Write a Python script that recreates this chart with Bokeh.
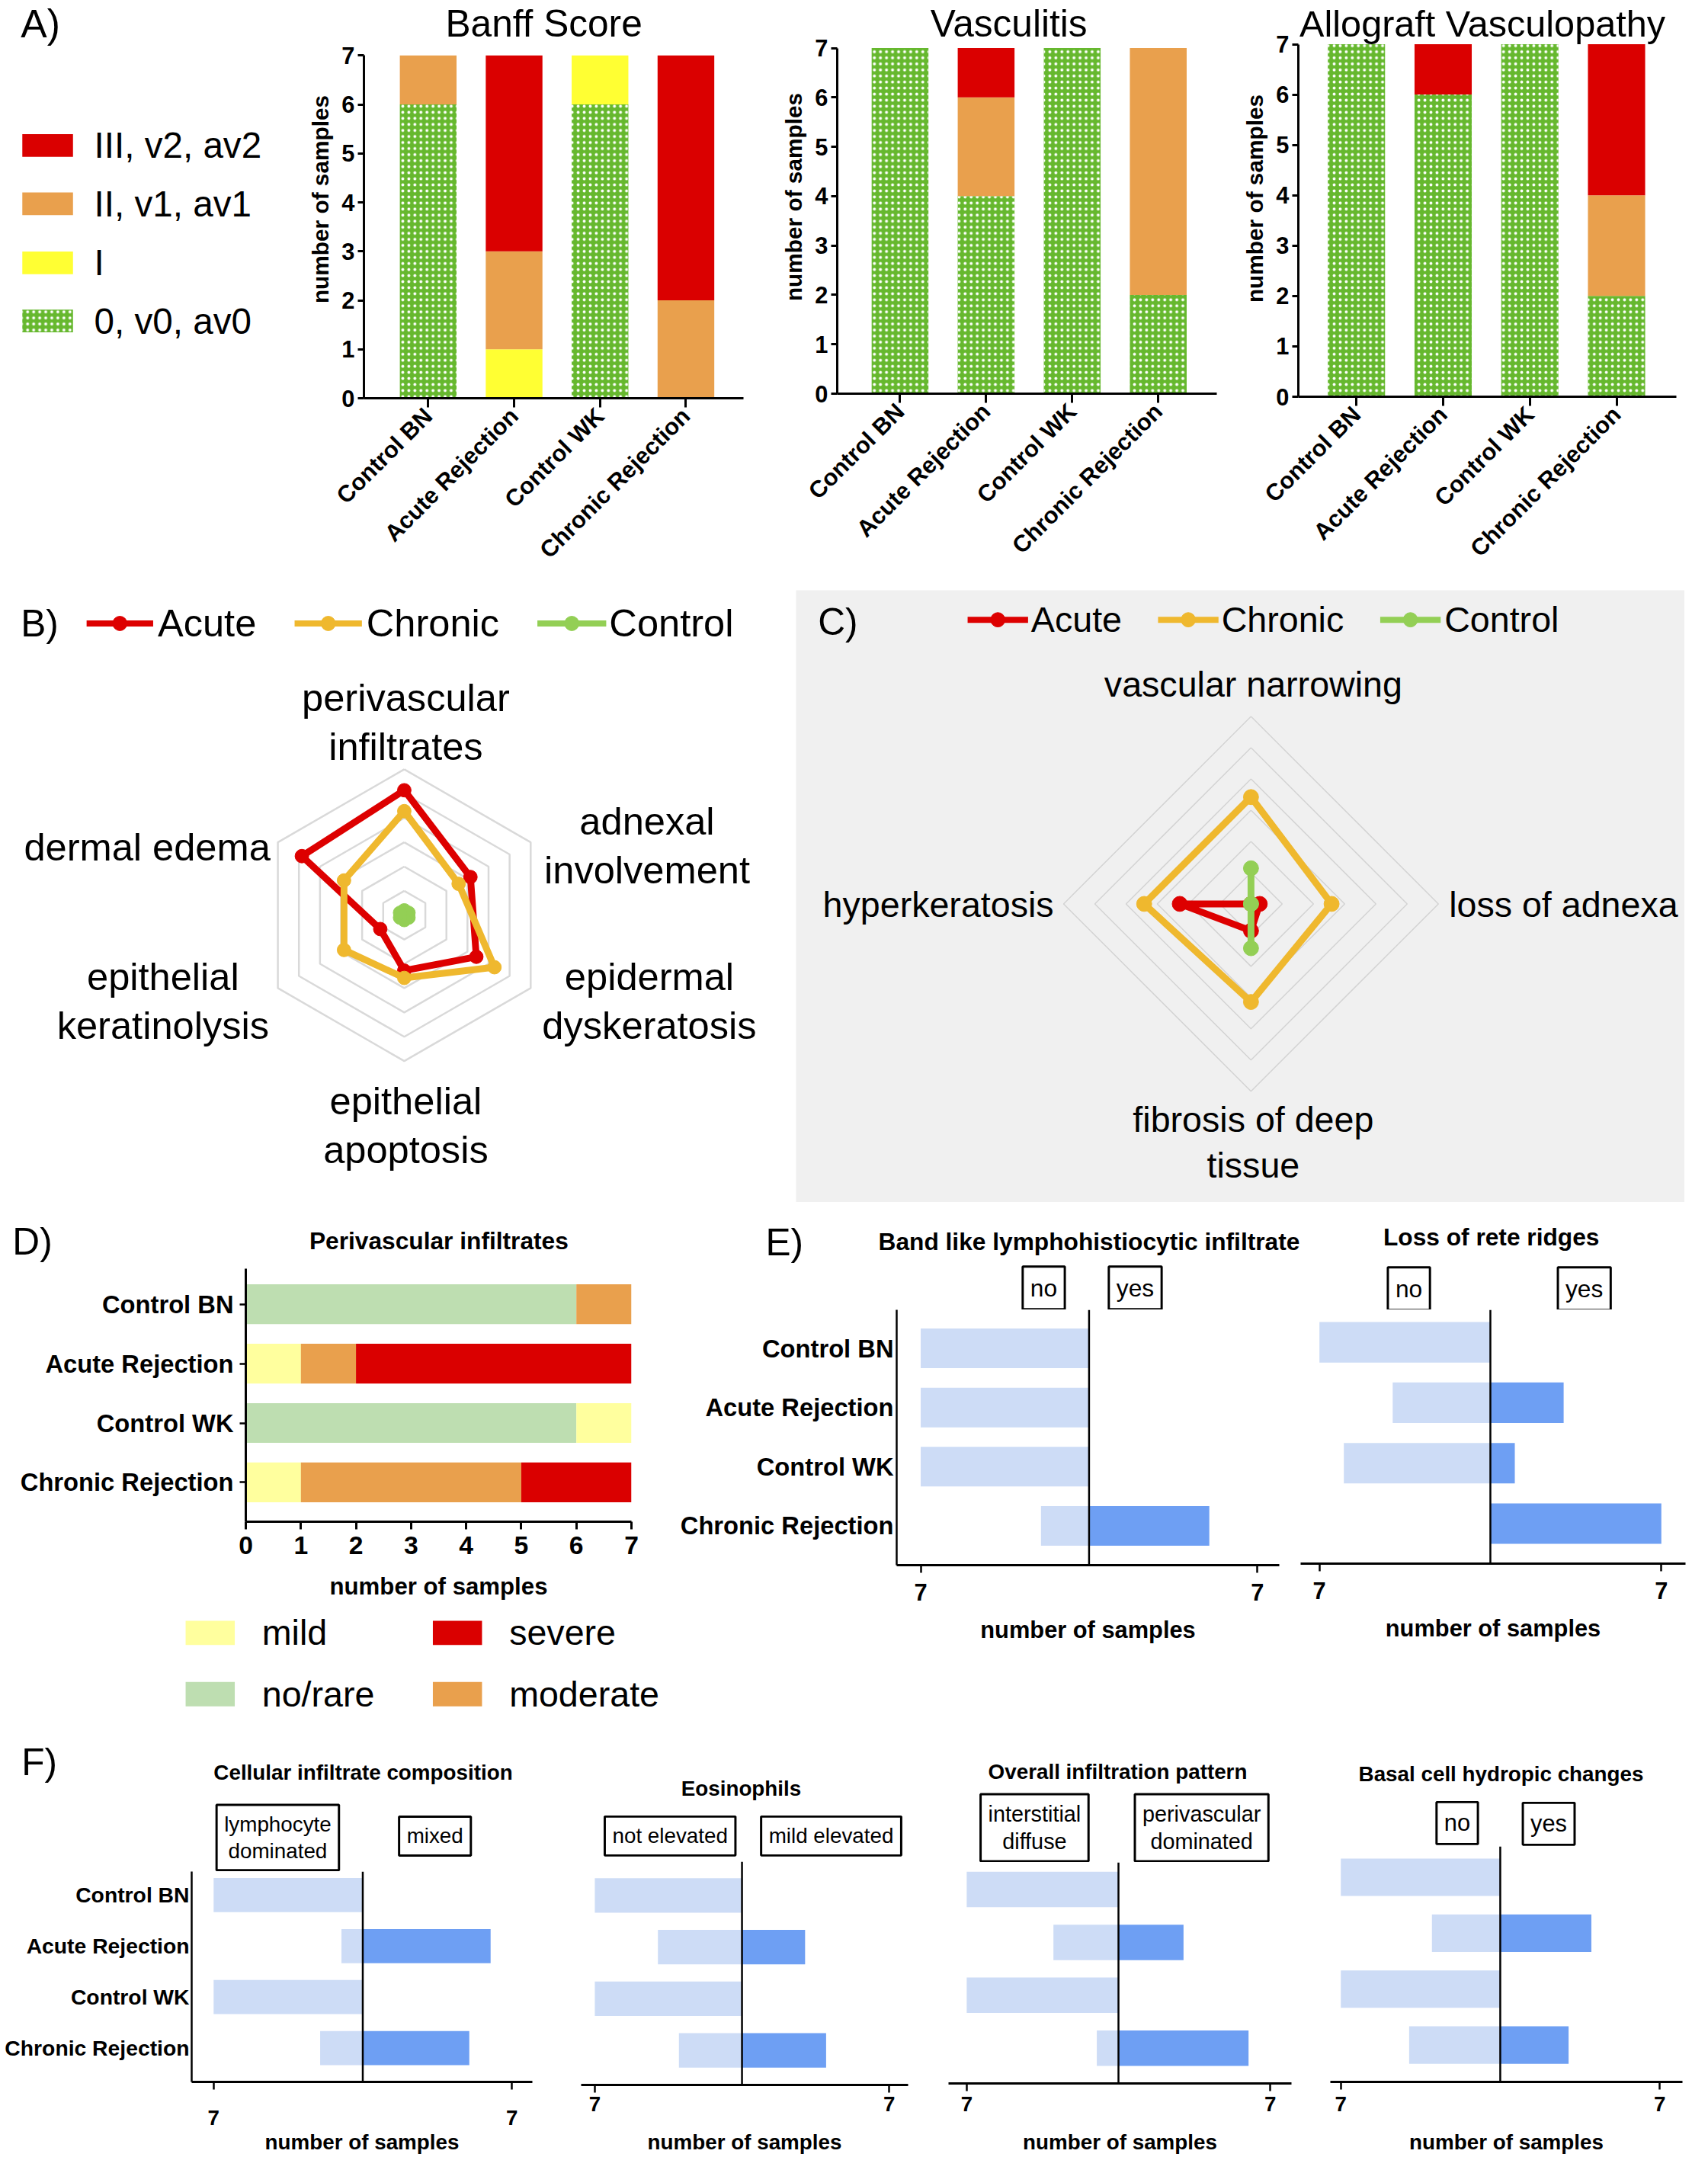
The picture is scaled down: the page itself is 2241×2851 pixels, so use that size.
import math
import numpy as np
from bokeh.plotting import figure
from bokeh.models import Range1d, FixedTicker, Label, Span, Spacer
from bokeh.layouts import row, column
from bokeh.embed import file_html
from bokeh.resources import INLINE

# ---------------- data ----------------
groups = ["Control BN", "Acute Rejection", "Control WK", "Chronic Rejection"]

score_levels = ["0, v0, av0", "I", "II, v1, av1", "III, v2, av2"]
score_colors = ["#66b82e", "#ffff33", "#e9a04d", "#da0000"]

banff_0 = [6, 0, 6, 0]
banff_1 = [0, 1, 1, 0]
banff_2 = [1, 2, 0, 2]
banff_3 = [0, 4, 0, 5]

vasc_0 = [7, 4, 7, 2]
vasc_1 = [0, 0, 0, 0]
vasc_2 = [0, 2, 0, 5]
vasc_3 = [0, 1, 0, 0]

allo_0 = [7, 6, 7, 2]
allo_1 = [0, 0, 0, 0]
allo_2 = [0, 0, 0, 2]
allo_3 = [0, 1, 0, 3]

radar_series = ["Acute", "Chronic", "Control"]
radar_colors = ["#dd0000", "#efb82e", "#93cf55"]
radar_rings = [0.5, 1.0, 1.5, 2.0, 2.5, 3.0]

skin_axes = ["perivascular\ninfiltrates", "adnexal\ninvolvement", "epidermal\ndyskeratosis",
             "epithelial\napoptosis", "epithelial\nkeratinolysis", "dermal edema"]
skin_acute = [2.57, 1.57, 1.71, 1.14, 0.57, 2.43]
skin_chronic = [2.14, 1.29, 2.14, 1.29, 1.43, 1.43]
skin_control = [0.1, 0.1, 0.1, 0.1, 0.1, 0.1]

vessel_axes = ["vascular narrowing", "loss of adnexa", "fibrosis of deep\ntissue", "hyperkeratosis"]
vessel_acute = [0.0, 0.14, 0.43, 1.14]
vessel_chronic = [1.71, 1.29, 1.57, 1.71]
vessel_control = [0.57, 0.0, 0.71, 0.0]

peri_levels = ["no/rare", "mild", "moderate", "severe"]
peri_colors = ["#bedeb1", "#ffff9e", "#e9a04d", "#da0000"]
peri_norare = [6, 0, 6, 0]
peri_mild = [0, 1, 1, 1]
peri_moderate = [1, 1, 0, 4]
peri_severe = [0, 5, 0, 2]

band_no = [7, 7, 7, 2]
band_yes = [0, 0, 0, 5]
rete_no = [7, 4, 6, 0]
rete_yes = [0, 3, 1, 7]
comp_lymph = [7, 1, 7, 2]
comp_mixed = [0, 6, 0, 5]
eos_not = [7, 4, 7, 3]
eos_mild = [0, 3, 0, 4]
patt_inter = [7, 3, 7, 1]
patt_peri = [0, 3, 0, 6]
basal_no = [7, 3, 7, 4]
basal_yes = [0, 4, 0, 3]

# ---------------- helpers ----------------
K = 0.992
FONT = "Liberation Sans"
LIGHT = "#cddcf6"
DARK = "#6e9ff3"


def S(v):
    return v * K


def PX(v):
    return f"{v * K:.1f}px"


def R(v):
    return int(round(v * K))


def make(g, f=None, xr=None, yr=None, xaxis=True, yaxis=True, bg="white"):
    gx0, gy0, gx1, gy1 = g
    if f is None:
        f = g
    fx0, fy0, fx1, fy1 = f
    if xr is None:
        xr = (fx0, fx1)
    if yr is None:
        yr = (fy1, fy0)
    p = figure(width=R(gx1) - R(gx0), height=R(gy1) - R(gy0),
               x_range=Range1d(*xr), y_range=Range1d(*yr),
               min_border_left=R(fx0) - R(gx0), min_border_right=R(gx1) - R(fx1),
               min_border_top=R(fy0) - R(gy0), min_border_bottom=R(gy1) - R(fy1),
               toolbar_location=None, tools="", output_backend="svg", title=None,
               x_axis_location="below" if xaxis else None,
               y_axis_location="left" if yaxis else None,
               background_fill_color=bg, border_fill_color=bg, outline_line_color=None)
    p.frame_align = False
    p.grid.visible = False

    def conv(gx, gy):
        x = xr[0] + (gx - fx0) / (fx1 - fx0) * (xr[1] - xr[0])
        y = yr[0] + (fy1 - gy) / (fy1 - fy0) * (yr[1] - yr[0])
        return x, y
    return p, conv


def canvas(g, bg="white"):
    return make(g, None, None, None, xaxis=False, yaxis=False, bg=bg)


def text(p, conv, gx, gy, t, size, bold=False, align="center", baseline="middle", box=None, lh=1.2):
    x, y = conv(gx, gy)
    kw = {}
    if box is not None:
        kw = dict(background_fill_color="white", border_line_color="black",
                  border_line_width=S(3), padding=R(box))
    p.add_layout(Label(x=x, y=y, text=t, text_font=FONT, text_font_size=PX(size),
                       text_font_style="bold" if bold else "normal", text_align=align,
                       text_baseline=baseline, text_line_height=lh, text_color="black", **kw))


def style_axis(ax, size, bold=True, line_w=3, tick_w=3, tick_out=8, standoff=5):
    ax.axis_line_width = S(line_w)
    ax.axis_line_color = "black"
    ax.major_tick_line_width = S(tick_w)
    ax.major_tick_line_color = "black" if tick_out > 0 else None
    ax.major_tick_out = R(tick_out)
    ax.major_tick_in = 0
    ax.minor_tick_line_color = None
    ax.major_label_text_font = FONT
    ax.major_label_text_font_size = PX(size)
    ax.major_label_text_font_style = "bold" if bold else "normal"
    ax.major_label_text_color = "black"
    ax.major_label_standoff = R(standoff)
    ax.axis_label_text_font = FONT
    ax.axis_label_text_font_style = "bold"
    ax.axis_label_text_color = "black"


def cat_range(fy0, fy1, c0, c3):
    sp = (c3 - c0) / 3.0
    return (3 + (fy1 - c3) / sp, -(c0 - fy0) / sp)


HATCH = dict(hatch_pattern="dot", hatch_color="white", hatch_scale=S(8), hatch_weight=S(2.2))


# ---------------- A) stacked bars ----------------
def stacked_panel(g, f, xr, title, title_x, title_size, series):
    gx0, gy0, gx1, gy1 = g
    fx0, fy0, fx1, fy1 = f
    unit = (fy1 - fy0) / 7.0
    ytop = 7 + (fy0 - gy0) / unit
    p, conv = make(g, (fx0, gy0, fx1, fy1), xr, (0, ytop))
    xs = list(range(len(groups)))
    base = np.zeros(len(groups))
    for lvl, (vals, color) in enumerate(zip(series, score_colors)):
        top = base + np.array(vals, dtype=float)
        extra = HATCH if lvl == 0 else {}
        p.vbar(x=xs, bottom=base, top=top, width=0.66, fill_color=color, line_color=None, **extra)
        base = top
    xa = p.xaxis[0]
    style_axis(xa, 31, tick_out=12, standoff=6)
    xa.ticker = FixedTicker(ticks=xs)
    xa.major_label_overrides = {i: gname for i, gname in enumerate(groups)}
    xa.major_label_orientation = math.pi / 4
    ya = p.yaxis[0]
    style_axis(ya, 31, tick_out=8, standoff=4)
    ya.ticker = FixedTicker(ticks=list(range(8)))
    ya.bounds = (0, 7)
    ya.axis_label = "number of samples"
    ya.axis_label_text_font_size = PX(30)
    ya.axis_label_standoff = R(8)
    text(p, conv, title_x, 31, title, title_size)
    return p


legA, cA = canvas((0, 0, 400, 760))
text(legA, cA, 27, 31, "A)", 52, align="left")
leg_rows = [424, 347, 269, 192]  # layout rows for levels 0..III
for lvl, (name, color, yc) in enumerate(zip(score_levels, score_colors, leg_rows)):
    extra = HATCH if lvl == 0 else {}
    legA.quad(left=[29], right=[96], top=[yc - 15], bottom=[yc + 15], fill_color=color,
              line_color=None, **extra)
    text(legA, cA, 124, yc, name, 48, align="left")

A1 = stacked_panel((400, 0, 1000, 760), (481, 73, 983, 527), (-0.748, 3.67), "Banff Score", 719, 50,
                   [banff_0, banff_1, banff_2, banff_3])
A2 = stacked_panel((1000, 0, 1640, 760), (1107, 63, 1609, 520), (-0.73, 3.68), "Vasculitis", 1334, 50,
                   [vasc_0, vasc_1, vasc_2, vasc_3])
A3 = stacked_panel((1640, 0, 2241, 760), (1716, 58, 2217, 524), (-0.67, 3.69), "Allograft Vasculopathy", 1960, 49,
                   [allo_0, allo_1, allo_2, allo_3])


# ---------------- B) / C) radar ----------------
def radar_xy(vals):
    n = len(vals)
    ang = [2 * math.pi * i / n for i in range(n)]
    return [v * math.sin(a) for v, a in zip(vals, ang)], [v * math.cos(a) for v, a in zip(vals, ang)]


def radar_panel(g, center, radius_px, labels, label_layout, series_vals, legend_layout, legend_y,
                letter, letter_pos, font_size, ring_color, ring_w, line_w, marker, bg, lh):
    gx0, gy0, gx1, gy1 = g
    cx, cy = center
    u = radius_px / radar_rings[-1]
    xr = ((gx0 - cx) / u, (gx1 - cx) / u)
    yr = ((cy - gy1) / u, (cy - gy0) / u)
    p, conv = make(g, g, xr, yr, xaxis=False, yaxis=False, bg=bg)
    n = len(labels)
    rxs, rys = [], []
    for r in radar_rings:
        xs, ys = radar_xy([r] * n)
        rxs.append(xs + [xs[0]])
        rys.append(ys + [ys[0]])
    p.multi_line(rxs, rys, line_color=ring_color, line_width=S(ring_w))
    for vals, color in zip(series_vals, radar_colors):
        xs, ys = radar_xy(vals)
        p.line(xs + [xs[0]], ys + [ys[0]], line_color=color, line_width=S(line_w), line_join="round")
        p.scatter(xs, ys, size=S(marker), fill_color=color, line_color=color)
    for lab, (lx, ly, al) in zip(labels, label_layout):
        text(p, conv, lx, ly, lab, font_size, align=al, lh=lh)
    text(p, conv, letter_pos[0], letter_pos[1], letter, 50, align="left")
    for name, color, (l0, l1, tx) in zip(radar_series, radar_colors, legend_layout):
        a = conv(l0, legend_y)
        b = conv(l1, legend_y)
        m = conv((l0 + l1) / 2, legend_y)
        p.line([a[0], b[0]], [a[1], b[1]], line_color=color, line_width=S(8))
        p.scatter([m[0]], [m[1]], size=S(19), fill_color=color, line_color=color)
        text(p, conv, tx, legend_y, name, font_size, align="left")
    return p


B = radar_panel((0, 760, 1050, 1600), (534, 1210), 193, skin_axes,
                [(536, 955, "center"), (855, 1118, "center"), (858, 1324, "center"),
                 (536, 1488, "center"), (215, 1324, "center"), (357, 1120, "right")],
                [skin_acute, skin_chronic, skin_control],
                [(114, 202, 208), (389, 478, 484), (710, 801, 805)], 824,
                "B)", (27, 824), 51, "#d9d9d9", 2.5, 9, 18, "white", 1.12)

C = radar_panel((1052, 780, 2228, 1590), (1654, 1195), 248, vessel_axes,
                [(1657, 905, "center"), (1916, 1196, "left"), (1657, 1511, "center"), (1393, 1196, "right")],
                [vessel_acute, vessel_chronic, vessel_control],
                [(1279, 1359, 1363), (1531, 1611, 1615), (1825, 1905, 1910)], 819,
                "C)", (1081, 822), 47, "#d3d3d3", 1.5, 9, 20, "#f0f0f0", 1.15)

# ---------------- D) horizontal stacked ----------------
Dh, cDh = canvas((0, 1600, 880, 1677))
text(Dh, cDh, 16, 1641, "D)", 50, align="left")
text(Dh, cDh, 580, 1640, "Perivascular infiltrates", 32, bold=True)

D, cD = make((0, 1677, 880, 2130), (325, 1677, 835, 2012), (0, 7), cat_range(1677, 2012, 1724, 1960))
ycat = list(range(len(groups)))
base = np.zeros(len(groups))
for vals, color in zip([peri_norare, peri_mild, peri_moderate, peri_severe], peri_colors):
    right = base + np.array(vals, dtype=float)
    D.hbar(y=ycat, left=base, right=right, height=0.67, fill_color=color, line_color=None)
    base = right
dx = D.xaxis[0]
style_axis(dx, 34, tick_out=10, standoff=9)
dx.ticker = FixedTicker(ticks=list(range(8)))
dx.axis_label = "number of samples"
dx.axis_label_text_font_size = PX(31.5)
dx.axis_label_standoff = R(22)
dy = D.yaxis[0]
style_axis(dy, 33, tick_out=8, tick_w=2.5, standoff=8)
dy.ticker = FixedTicker(ticks=ycat)
dy.major_label_overrides = {i: gname for i, gname in enumerate(groups)}

legD, cLD = canvas((0, 2130, 880, 2280))
legD_layout = [(245, 2240), (245, 2159), (572, 2240), (572, 2159)]  # no/rare, mild, moderate, severe
for name, color, (lx, ly) in zip(peri_levels, peri_colors, legD_layout):
    legD.quad(left=[lx], right=[lx + 65], top=[ly - 16], bottom=[ly + 16], fill_color=color, line_color=None)
    text(legD, cLD, lx + 101, ly, name, 47, align="left")


# ---------------- E) / F) diverging bars ----------------
def header(g, titles, boxes, letter=None, letter_xy=None):
    h, ch = canvas(g)
    if letter:
        text(h, ch, letter_xy[0], letter_xy[1], letter, 50, align="left")
    for t, tx, ty, ts in titles:
        text(h, ch, tx, ty, t, ts, bold=True)
    for t, bx, by, bs in boxes:
        text(h, ch, bx, by, t, bs, box=10, lh=1.12)
    return h


def diverge(g, f, xr, cats, no, yes, tick_size, tick_standoff, xlabel_size, xlabel_standoff,
            yaxis=False, cat_size=33, cat_standoff=4):
    p, conv = make(g, f, xr, cat_range(f[1], f[3], cats[0], cats[1]), yaxis=yaxis)
    ys = list(range(len(groups)))
    p.hbar(y=ys, left=[-v for v in no], right=[0] * len(ys), height=0.67, fill_color=LIGHT, line_color=None)
    p.hbar(y=ys, left=[0] * len(ys), right=yes, height=0.67, fill_color=DARK, line_color=None)
    p.add_layout(Span(location=0, dimension="height", line_color="black", line_width=S(2.5)))
    xa = p.xaxis[0]
    style_axis(xa, tick_size, tick_out=10, tick_w=2.5, standoff=tick_standoff)
    xa.ticker = FixedTicker(ticks=[-7, 7])
    xa.major_label_overrides = {-7: "7", 7: "7"}
    xa.axis_label = "number of samples"
    xa.axis_label_text_font_size = PX(xlabel_size)
    xa.axis_label_standoff = R(xlabel_standoff)
    if yaxis:
        ya = p.yaxis[0]
        style_axis(ya, cat_size, line_w=2.5, tick_out=0, standoff=cat_standoff)
        ya.ticker = FixedTicker(ticks=ys)
        ya.major_label_overrides = {i: gname for i, gname in enumerate(groups)}
    return p


Eh = header((880, 1600, 2241, 1732),
            [("Band like lymphohistiocytic infiltrate", 1440, 1642, 32), ("Loss of rete ridges", 1972, 1636, 32)],
            [("no", 1380, 1703, 32), ("yes", 1501, 1703, 32), ("no", 1863, 1704, 32), ("yes", 2095, 1704, 32)],
            "E)", (1012, 1643))
E1 = diverge((880, 1732, 1700, 2280), (1185, 1732, 1692, 2070), (-8.0, 7.91), (1783, 2018),
             band_no, band_yes, 31, 14, 31, 18, yaxis=True, cat_size=33, cat_standoff=4)
E2 = diverge((1700, 1732, 2241, 2280), (1720, 1732, 2229, 2068), (-7.77, 7.99), (1775, 2015),
             rete_no, rete_yes, 31, 14, 31, 18)

F1h = header((0, 2280, 720, 2475), [("Cellular infiltrate composition", 480, 2344, 28)],
             [("lymphocyte\ndominated", 367, 2430, 28), ("mixed", 575, 2428, 28)], "F)", (28, 2330))
F1 = diverge((0, 2475, 720, 2851), (253, 2475, 704, 2761), (-8.03, 7.96), (2507, 2715),
             comp_lymph, comp_mixed, 28, 27, 28, 4, yaxis=True, cat_size=28.5, cat_standoff=3)
F2h = header((720, 2280, 1230, 2462), [("Eosinophils", 980, 2365, 28)],
             [("not elevated", 886, 2428, 28), ("mild elevated", 1099, 2428, 28)])
F2 = diverge((720, 2462, 1230, 2851), (768, 2462, 1201, 2759), (-7.65, 7.90), (2507, 2713),
             eos_not, eos_mild, 28, 5, 28, 22)
F3h = header((1230, 2280, 1730, 2463), [("Overall infiltration pattern", 1478, 2343, 28)],
             [("interstitial\ndiffuse", 1368, 2417, 29), ("perivascular\ndominated", 1589, 2417, 29)])
F3 = diverge((1230, 2463, 1730, 2851), (1254, 2463, 1708, 2757), (-7.84, 7.98), (2499, 2710),
             patt_inter, patt_peri, 28, 7, 28, 22)
F4h = header((1730, 2280, 2241, 2442), [("Basal cell hydropic changes", 1985, 2346, 28)],
             [("no", 1927, 2411, 31), ("yes", 2048, 2412, 31)])
F4 = diverge((1730, 2442, 2241, 2851), (1759, 2442, 2225, 2755), (-7.46, 8.0), (2483, 2706),
             basal_no, basal_yes, 28, 9, 28, 22)

# ---------------- layout ----------------
rowA = row(legA, A1, A2, A3)
rowBC = row(B, Spacer(width=R(1052) - R(1050), height=10),
            column(Spacer(width=10, height=R(780) - R(760)), C, Spacer(width=10, height=R(1600) - R(1590))))
rowDE = row(column(Dh, D, legD), column(Eh, row(E1, E2)))
rowF = row(column(F1h, F1), column(F2h, F2), column(F3h, F3), column(F4h, F4))
page = column(rowA, rowBC, rowDE, rowF)

open("out.html", "w").write(file_html(page, INLINE))
